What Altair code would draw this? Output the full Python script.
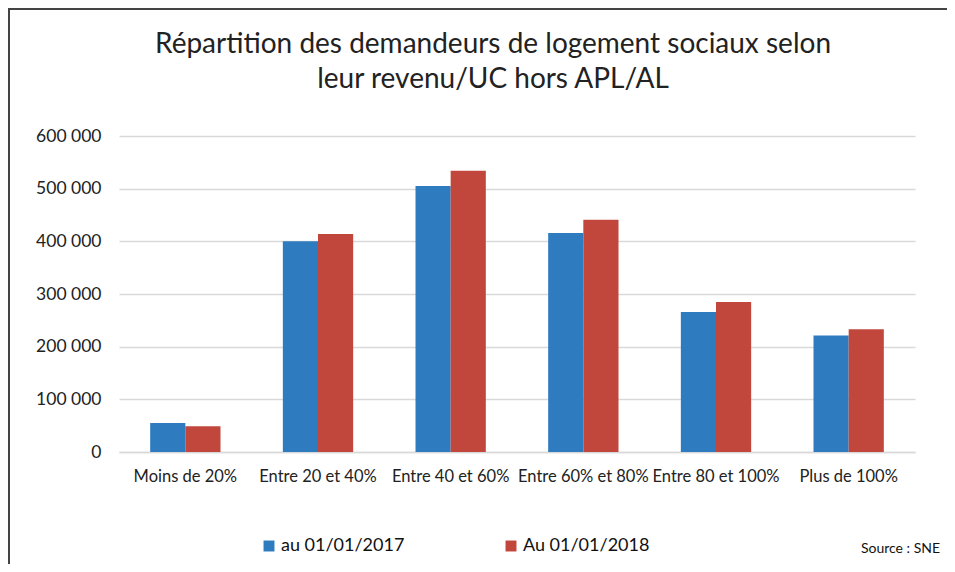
import altair as alt
import pandas as pd

categories = ["Moins de 20%", "Entre 20 et 40%", "Entre 40 et 60%",
              "Entre 60% et 80%", "Entre 80 et 100%", "Plus de 100%"]
series = ["au 01/01/2017", "Au 01/01/2018"]
values_2017 = [55000, 400000, 505000, 416000, 266000, 221000]
values_2018 = [49000, 414000, 534000, 441000, 285000, 233000]
colors = ["#2e7bbf", "#c1473c"]
title_lines = ["Répartition des demandeurs de logement sociaux selon",
               "leur revenu/UC hors APL/AL"]
source_text = "Source : SNE"

rows = []
for c, a, b in zip(categories, values_2017, values_2018):
    rows.append({"cat": c, "serie": series[0], "val": a})
    rows.append({"cat": c, "serie": series[1], "val": b})
df = pd.DataFrame(rows)

FONT = "Lato"

bars = alt.Chart(df).mark_bar().encode(
    x=alt.X("cat:N", sort=categories, title=None,
            scale=alt.Scale(paddingInner=0.47, paddingOuter=0.235),
            axis=alt.Axis(labelAngle=0, labelFontSize=16.5, labelColor="#222",
                          labelPadding=16, ticks=False, domain=True,
                          domainColor="#d9d9d9", domainWidth=1.5,
                          labelFont=FONT, labelLimit=200)),
    xOffset=alt.XOffset("serie:N", sort=series),
    y=alt.Y("val:Q", title=None,
            scale=alt.Scale(domain=[0, 600000]),
            axis=alt.Axis(values=[0, 100000, 200000, 300000, 400000, 500000, 600000],
                          labelExpr="replace(format(datum.value, ','), ',', ' ')",
                          labelFontSize=17.5, labelColor="#222", labelPadding=18,
                          ticks=False, domain=False, grid=True,
                          gridColor="#d9d9d9", gridWidth=1.5, labelFont=FONT)),
    color=alt.Color("serie:N", sort=series,
                    scale=alt.Scale(domain=series, range=colors),
                    legend=alt.Legend(title=None, orient="none", legendX=141, legendY=401,
                                      direction="horizontal", columns=2,
                                      symbolType="square", symbolSize=120,
                                      symbolStrokeWidth=0, labelFontSize=18,
                                      labelFont=FONT, labelColor="#111",
                                      labelOffset=3, columnPadding=97,
                                      labelLimit=300)),
)

frame_src = pd.DataFrame({"k": [0]})
left_line = alt.Chart(frame_src).mark_rect(color="#444").encode(
    x=alt.value(-111), x2=alt.value(-109), y=alt.value(-128), y2=alt.value(440))
top_line = alt.Chart(frame_src).mark_rect(color="#444").encode(
    x=alt.value(-111), x2=alt.value(828), y=alt.value(-128), y2=alt.value(-126))

title = alt.Chart(frame_src).mark_text(
    align="center", baseline="alphabetic", fontSize=28, font=FONT,
    color="#222", lineHeight=35).encode(
    text=alt.value(title_lines), x=alt.value(374), y=alt.value(-83))

source_df = pd.DataFrame({"t": [source_text]})
source = alt.Chart(source_df).mark_text(align="right", baseline="middle",
                                        fontSize=14, font=FONT, color="#111").encode(
    text="t:N", x=alt.value(821), y=alt.value(413))

chart = alt.layer(bars, left_line, top_line, title, source).properties(
    width=796, height=316,
    autosize=alt.AutoSizeParams(type="none"),
    padding={"left": 111, "top": 128, "right": 32, "bottom": 112},
    background="white",
).configure_view(stroke=None)

chart.save("out.html", embed_options={"renderer": "svg", "actions": False})
